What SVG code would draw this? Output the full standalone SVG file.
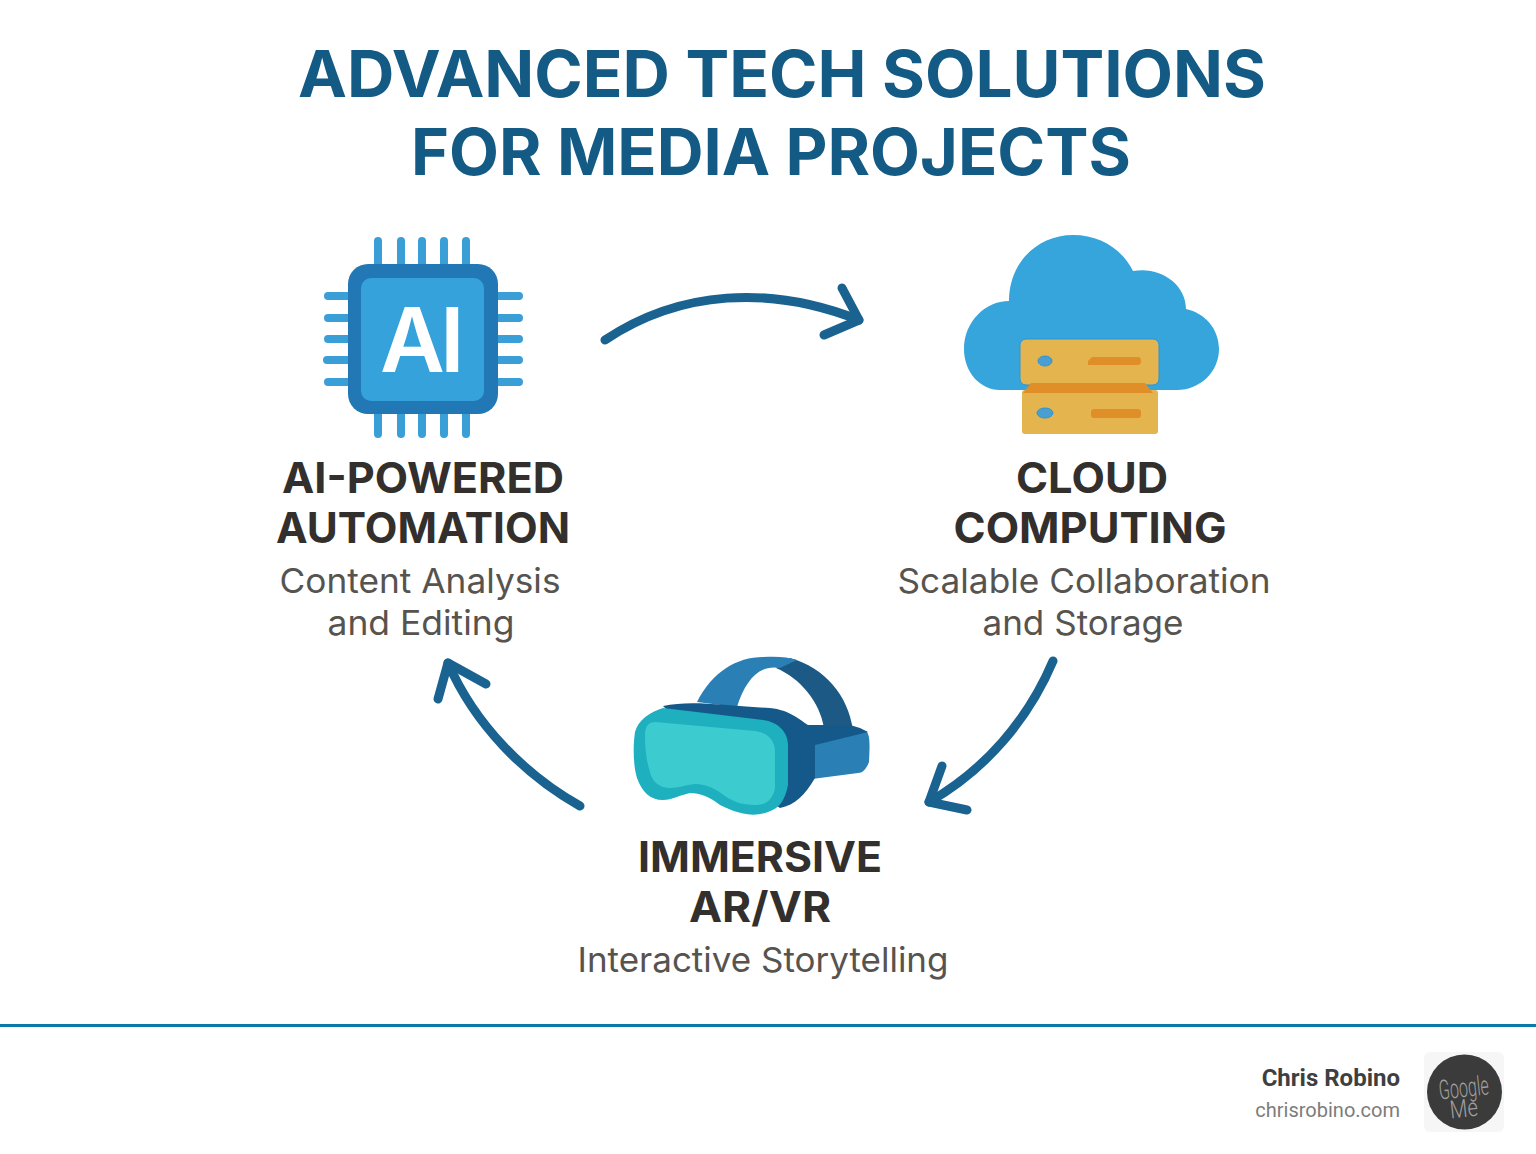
<svg xmlns="http://www.w3.org/2000/svg" width="1536" height="1154" viewBox="0 0 1536 1154">
<style>
.title{font-family:"Inter","Liberation Sans",sans-serif;font-weight:700;font-size:64px;fill:#135a85;text-anchor:middle}
.head{font-family:"Inter","Liberation Sans",sans-serif;font-weight:700;font-size:42px;fill:#332f2c;text-anchor:middle}
.sub{font-family:"Inter","Liberation Sans",sans-serif;font-weight:400;font-size:34px;fill:#57534f;text-anchor:middle}
.pin{stroke:#3a9fd6;stroke-width:8;stroke-linecap:round;fill:none}
.conn{stroke:#1a6390;stroke-width:9;stroke-linecap:round;stroke-linejoin:round;fill:none}
.sign{font-family:"Roboto","Liberation Sans",sans-serif;font-weight:300;fill:#a0a0a0;text-anchor:middle}
</style>
<rect width="1536" height="1154" fill="#fff"/>
<g id="title">
<text class="title" x="782" y="97" textLength="968" lengthAdjust="spacingAndGlyphs">ADVANCED TECH SOLUTIONS</text>
<text class="title" x="771" y="175" textLength="720" lengthAdjust="spacingAndGlyphs">FOR MEDIA PROJECTS</text>
</g>
<g id="connectors">
<path class="conn" d="M605 340C680 290 770 285 859 320"/>
<path class="conn" d="M842 288L859 320L824 335"/>
<path class="conn" d="M1053 661C1028 720 985 770 929 802"/>
<path class="conn" d="M942 766L929 802L967 810"/>
<path class="conn" d="M580 806C525 775 475 725 448 663"/>
<path class="conn" d="M438 699L448 663L486 684"/>
</g>
<g id="node-ai">
<path class="pin" d="M378 241V264M401 241V264M422 241V264M444 241V264M466 241V264M378 414V434M401 414V434M422 414V434M444 414V434M466 414V434M328 296H348M328 318H348M328 339H348M327 360H348M328 382H348M498 296H519M498 318H519M498 339H519M498 360H519M498 382H519"/>
<rect x="348" y="264" width="150" height="150" rx="20" fill="#2278b5"/>
<rect x="361" y="278" width="123" height="123" rx="10" fill="#35a2db"/>
<text x="380 440" y="372" font-family="Inter,'Liberation Sans',sans-serif" font-weight="600" font-size="89" fill="#fff">AI</text>
<text class="head" x="423" y="493" textLength="282" lengthAdjust="spacingAndGlyphs">AI-POWERED</text>
<text class="head" x="423" y="543" textLength="294" lengthAdjust="spacingAndGlyphs">AUTOMATION</text>
<text class="sub" x="420" y="593" textLength="281" lengthAdjust="spacingAndGlyphs">Content Analysis</text>
<text class="sub" x="421" y="635" textLength="187" lengthAdjust="spacingAndGlyphs">and Editing</text>
</g>
<g id="node-cloud">
<path d="M1000 390C980 390 964 372 964 349C964 322 985 301 1009 301C1009 262 1038 235 1073 235C1100 235 1122 249 1133 271C1160 266 1186 284 1186 309C1205 313 1219 329 1219 349C1219 372 1200 390 1177 390Z" fill="#35a5db"/>
<rect x="1022" y="390" width="136" height="44" rx="3" fill="#e4b54f"/>
<rect x="1020" y="339" width="139" height="46" rx="6" fill="#e4b54f" stroke="#2b95d6" stroke-width="1"/>
<path d="M1031 383H1145L1153 393H1023Z" fill="#e08f28"/>
<ellipse cx="1045" cy="361" rx="7" ry="5" fill="#4a9fd0" stroke="#2b95d6"/>
<ellipse cx="1045" cy="413" rx="8" ry="5" fill="#4a9fd0" stroke="#2b95d6"/>
<path d="M1092 357H1138Q1141 357 1141 361Q1141 365 1138 365H1088V361Z" fill="#e08f28"/>
<rect x="1091" y="409" width="50" height="9" rx="3" fill="#e08f28"/>
<text class="head" x="1092" y="493" textLength="152" lengthAdjust="spacingAndGlyphs">CLOUD</text>
<text class="head" x="1090" y="543" textLength="273" lengthAdjust="spacingAndGlyphs">COMPUTING</text>
<text class="sub" x="1084" y="593" textLength="373" lengthAdjust="spacingAndGlyphs">Scalable Collaboration</text>
<text class="sub" x="1083" y="635" textLength="201" lengthAdjust="spacingAndGlyphs">and Storage</text>
</g>
<g id="node-vr">
<path d="M790 658C825 668 848 695 853 730L824 728C820 702 800 678 776 668Z" fill="#1c5a85"/>
<path d="M697 702C712 672 737 657 763 657C777 656 788 657 797 660L780 668C758 664 745 682 737 707Z" fill="#2a7fb5"/>
<path d="M812 745L866 731C870 735 870 742 869 762C866 770 862 773 858 773L812 779Z" fill="#2a7fb5"/>
<path d="M663 706C690 700 720 705 770 708C790 710 800 720 808 725H850L860 728L868 732L815 745V778C805 795 795 805 780 808L740 780Z" fill="#14598a"/>
<path d="M663 708L763 720C778 722 788 732 788 745V785C785 800 780 808 768 812C755 817 740 815 720 805C710 797 700 793 690 793C680 795 672 800 663 800C650 800 642 792 637 778C633 765 633 745 635 732C638 720 650 712 663 708Z" fill="#1fb0c0"/>
<path d="M655 722L755 731C768 733 775 740 775 752V788C773 800 765 805 757 805C745 805 735 803 725 796C715 788 705 784 695 784C685 785 678 788 670 788C660 788 652 782 650 772C646 760 645 745 645 735C645 727 648 722 655 722Z" fill="#3ccbce"/>
<text class="head" x="760" y="872" textLength="244" lengthAdjust="spacingAndGlyphs">IMMERSIVE</text>
<text class="head" x="760" y="922" textLength="142" lengthAdjust="spacingAndGlyphs">AR/VR</text>
<text class="sub" x="763" y="972" textLength="371" lengthAdjust="spacingAndGlyphs">Interactive Storytelling</text>
</g>
<g id="footer">
<rect x="0" y="1024" width="1536" height="3" fill="#0b7aa8"/>
<text x="1400" y="1085.5" font-family="Roboto,'Liberation Sans',sans-serif" font-weight="700" font-size="24" fill="#3f3f3f" text-anchor="end">Chris Robino</text>
<text x="1400" y="1117" font-family="Roboto,'Liberation Sans',sans-serif" font-size="20" fill="#7c7c7c" text-anchor="end">chrisrobino.com</text>
<rect x="1424" y="1052" width="80" height="80" rx="6" fill="#f6f6f6"/>
<circle cx="1464.5" cy="1092" r="37.5" fill="#3b3b3b"/>
<text class="sign" x="1464" y="1097" font-size="27" transform="rotate(-6 1464 1090)" textLength="50" lengthAdjust="spacingAndGlyphs">Google</text>
<text class="sign" x="1464" y="1117" font-size="25" transform="rotate(-6 1464 1110)" textLength="28" lengthAdjust="spacingAndGlyphs">Me</text>
</g>
</svg>
